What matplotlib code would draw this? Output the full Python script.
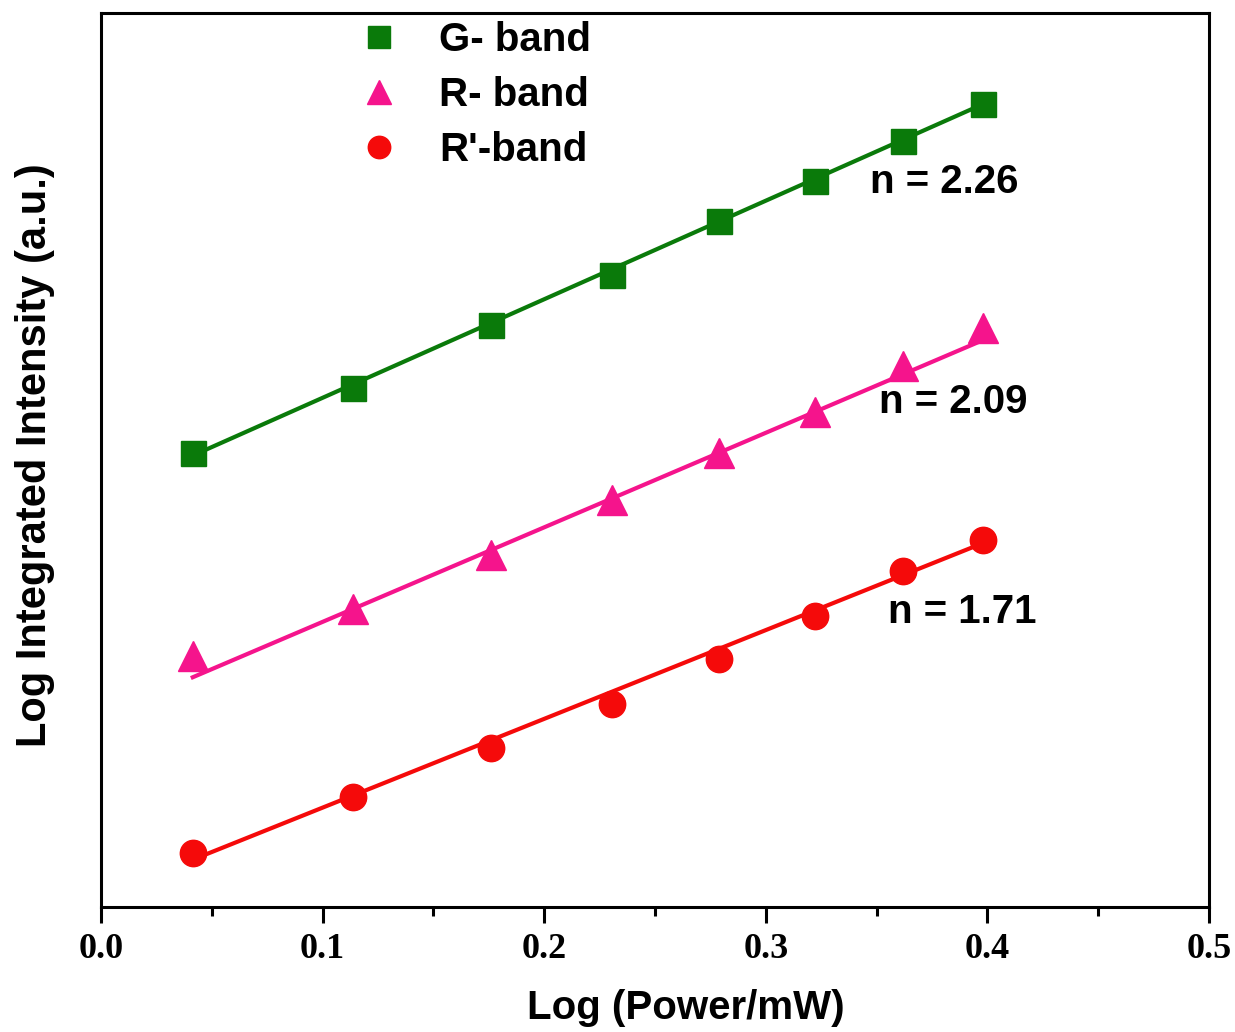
import matplotlib
matplotlib.use("Agg")
import matplotlib.pyplot as plt
from matplotlib.ticker import MultipleLocator

# log10 of excitation power (mW)
log_power = [0.0414, 0.1139, 0.1761, 0.2304, 0.2788, 0.3222, 0.3617, 0.3979]

# log integrated intensity, arbitrary units
g_band = [0.508, 0.581, 0.651, 0.707, 0.767, 0.812, 0.857, 0.898]
r_band = [0.281, 0.333, 0.394, 0.455, 0.508, 0.554, 0.605, 0.648]
rp_band = [0.060, 0.123, 0.178, 0.227, 0.277, 0.326, 0.376, 0.411]

# linear fit end points
fit_x = [0.0414, 0.3979]
g_fit = [0.505, 0.898]
r_fit = [0.257, 0.634]
rp_fit = [0.053, 0.407]

slopes = ["n = 2.26", "n = 2.09", "n = 1.71"]
slope_pos = [(0.347, 0.811), (0.351, 0.565), (0.355, 0.330)]

GREEN = "#0a7a0a"
PINK = "#f5148c"
RED = "#f50a0a"

SANS = "Liberation Sans"
SERIF = "Liberation Serif"

fig = plt.figure(figsize=(12.35, 10.32), dpi=100)
ax = fig.add_axes([0.0818, 0.1211, 0.8972, 0.8663])

ax.plot(fit_x, g_fit, color=GREEN, lw=3.0, zorder=2)
ax.plot(fit_x, r_fit, color=PINK, lw=3.0, zorder=2)
ax.plot(fit_x, rp_fit, color=RED, lw=3.0, zorder=2)

ax.plot(log_power, g_band, "s", color=GREEN, ms=18, mec=GREEN, label="G- band", zorder=3)
ax.plot(log_power, r_band, "^", color=PINK, ms=21, mec=PINK, label="R- band", zorder=3)
ax.plot(log_power, rp_band, "o", color=RED, ms=19, mec=RED, label="R'-band", zorder=3)

for txt, (x, y) in zip(slopes, slope_pos):
    ax.text(x, y, txt, fontsize=29, fontweight="bold", family=SANS, va="center", ha="left")

ax.set_xlim(0, 0.5)
ax.set_ylim(0, 1)
ax.xaxis.set_major_locator(MultipleLocator(0.1))
ax.xaxis.set_minor_locator(MultipleLocator(0.05))
ax.set_yticks([])

for sp in ax.spines.values():
    sp.set_linewidth(2.2)
ax.tick_params(axis="x", which="major", direction="out", length=11.5, width=2.2, pad=7)
ax.tick_params(axis="x", which="minor", direction="out", length=6.5, width=2.2)
for lab in ax.get_xticklabels():
    lab.set_fontfamily(SERIF)
    lab.set_fontweight("bold")
    lab.set_fontsize(26)

ax.set_xlabel("Log (Power/mW)", fontsize=29, fontweight="bold", family=SANS)
ax.xaxis.set_label_coords(0.528, -0.113, transform=ax.transAxes)
ax.xaxis.label.set_va("center")
ax.set_ylabel("Log Integrated Intensity (a.u.)", fontsize=30, fontweight="bold", family=SANS)
ax.yaxis.set_label_coords(-0.060, 0.505, transform=ax.transAxes)
ax.yaxis.label.set_va("center")

leg = ax.legend(loc="upper left", bbox_to_anchor=(0.2, 1.018), frameon=False,
                prop={"family": SANS, "weight": "bold", "size": 29},
                handletextpad=0.7, labelspacing=0.42, markerscale=0.85,
                borderaxespad=0.2, handlelength=1.6)

fig.savefig("out.png", dpi=100)
